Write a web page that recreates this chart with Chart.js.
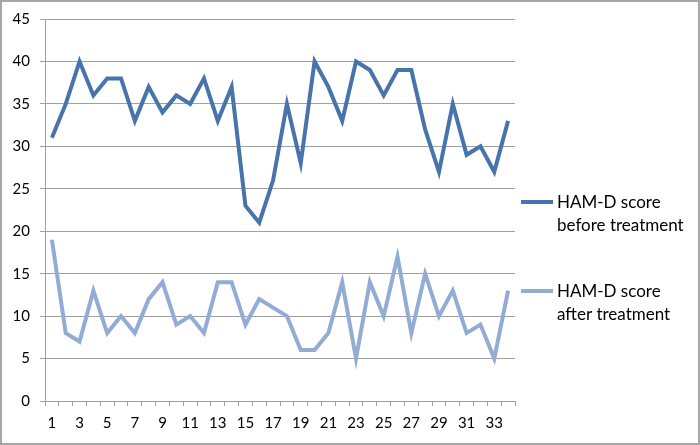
<!DOCTYPE html>
<html>
<head>
<meta charset="utf-8">
<script src="https://cdn.jsdelivr.net/npm/chart.js@4/dist/chart.umd.min.js"></script>
<style>
  html, body { margin: 0; padding: 0; background: #fff; }
  #wrap { position: relative; width: 700px; height: 445px; }
</style>
</head>
<body>
<div id="wrap"><canvas id="c" width="700" height="445"></canvas></div>
<script>
const categories = Array.from({length: 34}, (_, i) => String(i + 1));
const beforeLabel = ["HAM-D score", "before treatment"];
const afterLabel = ["HAM-D score", "after treatment"];
const beforeScores = [31,35,40,36,38,38,33,37,34,36,35,38,33,37,23,21,26,35,28,40,37,33,40,39,36,39,39,32,27,35,29,30,27,33];
const afterScores = [19,8,7,13,8,10,8,12,14,9,10,8,14,14,9,12,11,10,6,6,8,14,5,14,10,17,8,15,10,13,8,9,5,13];
const yTicks = [0,5,10,15,20,25,30,35,40,45];

const FONT = "Lato, 'Liberation Sans', sans-serif";

const framePlugin = {
  id: 'frame',
  afterDraw(chart) {
    const ctx = chart.ctx;
    ctx.save();
    ctx.strokeStyle = '#a6a6a6';
    ctx.lineWidth = 2;
    ctx.strokeRect(1, 1, chart.width - 2, chart.height - 2);
    // legend
    const items = [
      {label: chart.data.datasets[0].label, color: chart.data.datasets[0].borderColor, y: 202},
      {label: chart.data.datasets[1].label, color: chart.data.datasets[1].borderColor, y: 291}
    ];
    ctx.font = "17px " + FONT;
    ctx.fillStyle = '#000';
    ctx.textBaseline = 'middle';
    ctx.textAlign = 'left';
    items.forEach(it => {
      ctx.strokeStyle = it.color;
      ctx.lineWidth = 4;
      ctx.beginPath();
      ctx.moveTo(521, it.y);
      ctx.lineTo(553, it.y);
      ctx.stroke();
      it.label.forEach((t, i) => ctx.fillText(t, 557, it.y + 1 + i * 23));
    });
    ctx.restore();
  }
};

new Chart(document.getElementById('c'), {
  type: 'line',
  data: {
    labels: categories,
    datasets: [
      { label: beforeLabel, data: beforeScores, borderColor: '#4674ab', borderWidth: 4, pointRadius: 0, tension: 0, fill: false },
      { label: afterLabel, data: afterScores, borderColor: '#93acd4', borderWidth: 4, pointRadius: 0, tension: 0, fill: false }
    ]
  },
  options: {
    responsive: false,
    animation: false,
    devicePixelRatio: 1,
    layout: { padding: { top: 18, right: 185, left: 0, bottom: 0 } },
    plugins: { legend: { display: false }, tooltip: { enabled: false } },
    scales: {
      x: {
        type: 'category',
        offset: true,
        grid: { offset: true, drawOnChartArea: false, drawTicks: true, tickLength: 5, color: '#a0a0a0', lineWidth: 1 },
        border: { display: true, color: '#a0a0a0', width: 1 },
        ticks: {
          autoSkip: false, maxRotation: 0, minRotation: 0, padding: 8,
          color: '#000', font: { family: FONT, size: 15 },
          callback: function(v, i) { return i % 2 === 0 ? categories[i] : ''; }
        },
        afterFit(scale) { scale.height = 44; }
      },
      y: {
        min: 0, max: 45,
        afterBuildTicks(scale) { scale.ticks = yTicks.map(v => ({value: v})); },
        grid: { color: '#a0a0a0', lineWidth: 1, drawTicks: true, tickLength: 5 },
        border: { display: true, color: '#a0a0a0', width: 1 },
        ticks: { padding: 10, color: '#000', font: { family: FONT, size: 15 } },
        afterFit(scale) { scale.width = 45; }
      }
    }
  },
  plugins: [framePlugin]
});
</script>
</body>
</html>
